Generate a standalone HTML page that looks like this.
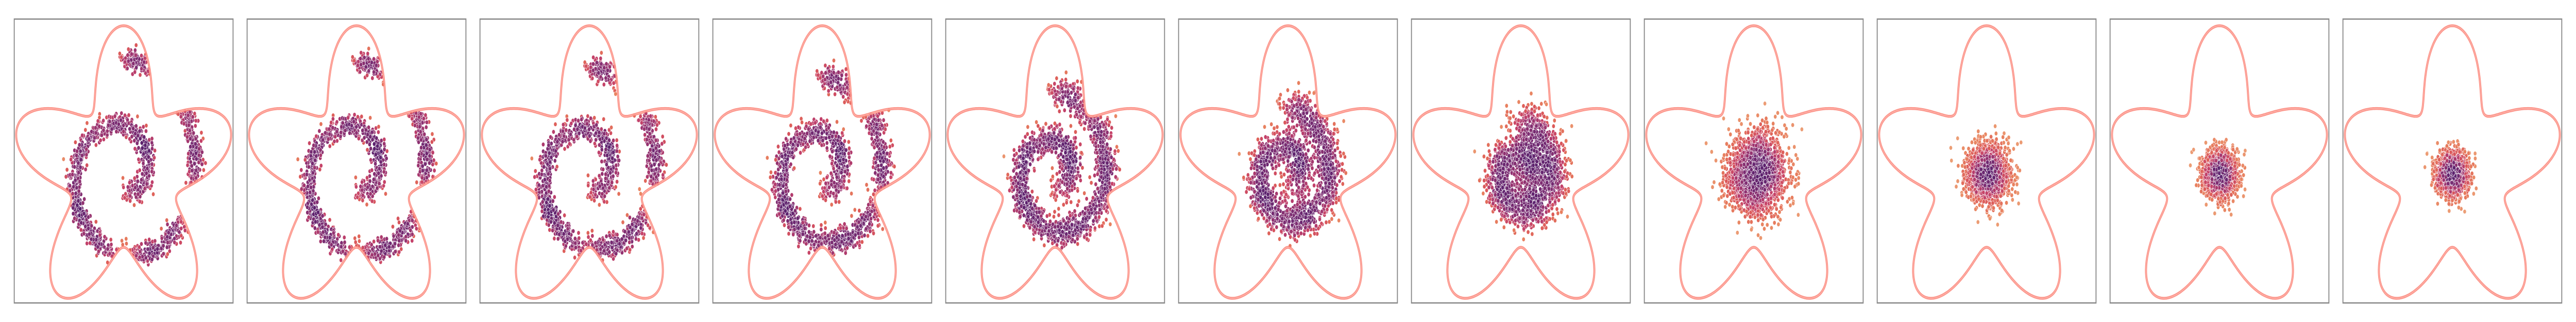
<!DOCTYPE html>
<html><head><meta charset="utf-8"><title>Diffusion steps inside star domain</title>
<style>html,body{margin:0;padding:0;background:#fff;width:100%;height:100%;overflow:hidden;}svg{display:block;width:100vw;height:100vh;}</style></head>
<body>
<svg id="chart" xmlns="http://www.w3.org/2000/svg" viewBox="0 0 6875 625" preserveAspectRatio="none"></svg>
<script>
// ---- data ----
const panelIndex = [0,1,2,3,4,5,6,7,8,9,10];
const signalScale = [1.0,0.97,0.92,0.84,0.71,0.58,0.45,0.25,0.10,0.03,0.0];
const noiseStd = [11,11,12,13,15,18,21,30,26,22,21];
const spiralStartDeg = -80;
const spiralEndDeg = 449;
const spiralR0 = 62;
const spiralSlope = 0.36;
const starInner = 142;
const starOuter = 288;
const nPoints = 1700;

// ---- layout ----
const svg = document.getElementById('chart');
const boxX0 = 38, boxPitch = 621.5, boxY = 37, boxW = 584, boxH = 551;
const cxOff = 292, cy = 338, xStretch = 1.04;

function mulberry32(a){return function(){a|=0;a=a+0x6D2B79F5|0;let t=Math.imul(a^a>>>15,1|a);t=t+Math.imul(t^t>>>7,61|t)^t;return((t^t>>>14)>>>0)/4294967296;};}
const rng = mulberry32(12345);
function gauss(){let u=rng()||1e-9,v=rng();return Math.sqrt(-2*Math.log(u))*Math.cos(2*Math.PI*v);}

const base = [];
const rmin = spiralR0 + spiralSlope*spiralStartDeg, rmax = spiralR0 + spiralSlope*spiralEndDeg;
for(let i=0;i<nPoints;i++){
  const u = rng();
  const r = Math.sqrt(rmin*rmin + u*(rmax*rmax-rmin*rmin));
  const th = (r - spiralR0)/spiralSlope*Math.PI/180;
  base.push({x: r*Math.cos(th), y: -r*Math.sin(th), n1: gauss(), n2: gauss()});
}

function starR(theta){
  return (starInner+starOuter)/2 + (starOuter-starInner)/2*Math.cos(5*theta);
}
function insideStar(dx,dy){
  const x = dx/xStretch, y = dy;
  const th = Math.atan2(x,-y);
  return Math.hypot(x,y) < starR(th) - 3;
}
const flare = [[0,[237,166,124]],[0.2,[232,128,95]],[0.4,[220,90,90]],[0.55,[196,66,106]],[0.7,[157,53,112]],[0.85,[122,44,114]],[1,[92,34,110]]];
function colorAt(t){
  t=Math.max(0,Math.min(1,t));
  for(let k=1;k<flare.length;k++){
    if(t<=flare[k][0]){const a=flare[k-1],b=flare[k];const f=(t-a[0])/(b[0]-a[0]);
      const c=a[1].map((v,j)=>Math.round(v+(b[1][j]-v)*f));return `rgb(${c[0]},${c[1]},${c[2]})`;}
  }
  return 'rgb(92,34,110)';
}

let html = '';
panelIndex.forEach(i=>{
  const left = boxX0 + i*boxPitch;
  const cx = left + cxOff;
  const a = signalScale[i], s = noiseStd[i];
  const pts = [];
  base.forEach(p=>{
    const dx = a*p.x + s*p.n1;
    const dy = a*p.y + s*p.n2;
    if(insideStar(dx,dy)) pts.push([cx+dx, cy+dy]);
  });
  const cell = 12, gw = Math.ceil(boxW/cell)+4, gh = Math.ceil(boxH/cell)+4;
  const grid = new Float32Array(gw*gh);
  const gi = p=>[Math.floor((p[0]-left)/cell)+2, Math.floor((p[1]-boxY)/cell)+2];
  pts.forEach(p=>{const [gx,gy]=gi(p); if(gx>=0&&gx<gw&&gy>=0&&gy<gh) grid[gy*gw+gx]+=1;});
  const dens = pts.map(p=>{const [gx,gy]=gi(p); let d=0;
    for(let yy=-2;yy<=2;yy++)for(let xx=-2;xx<=2;xx++){const X=gx+xx,Y=gy+yy; if(X>=0&&X<gw&&Y>=0&&Y<gh) d+=grid[Y*gw+X]*Math.exp(-(xx*xx+yy*yy)/3);} return d;});
  const sorted = dens.slice().sort((x,y)=>x-y);
  const dmax = sorted[Math.floor(sorted.length*0.97)] || 1;

  html += `<g>`;
  html += `<clipPath id="clip${i}"><rect x="${left}" y="${boxY}" width="${boxW}" height="${boxH}"/></clipPath>`;
  html += `<g clip-path="url(#clip${i})">`;
  pts.forEach((p,k)=>{
    html += `<circle cx="${p[0].toFixed(1)}" cy="${p[1].toFixed(1)}" r="4.3" fill="${colorAt(Math.pow(dens[k]/dmax,0.6))}" stroke="#fff" stroke-width="0.7"/>`;
  });
  html += `</g>`;
  let d='';
  for(let k=0;k<=720;k++){
    const th = k/720*2*Math.PI;
    const r = starR(th);
    const x = cx + xStretch*r*Math.sin(th), y = cy - r*Math.cos(th);
    d += (k?'L':'M')+x.toFixed(1)+' '+y.toFixed(1);
  }
  html += `<path d="${d}Z" fill="none" stroke="#fb8276" stroke-width="5.5" stroke-opacity="0.85"/>`;
  html += `<path d="${d}Z" fill="none" stroke="#ffd6d2" stroke-width="1.2" stroke-opacity="0.6"/>`;
  html += `<rect x="${left}" y="${boxY}" width="${boxW}" height="${boxH}" fill="none" stroke="#878787" stroke-width="2.5"/>`;
  html += `</g>`;
});
svg.innerHTML = html;
</script>
</body></html>
